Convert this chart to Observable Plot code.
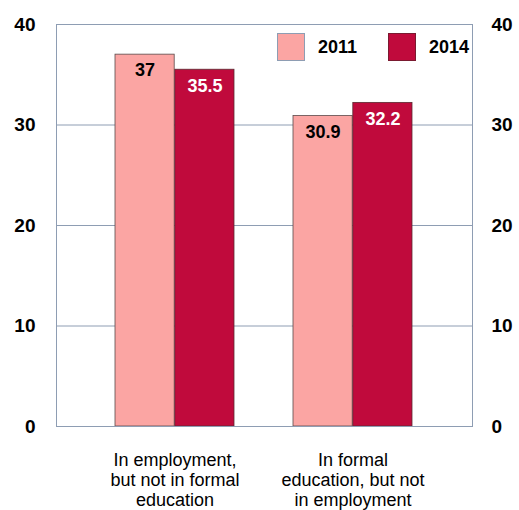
<!DOCTYPE html>
<html>
<head>
<meta charset="utf-8">
<script src="https://cdn.jsdelivr.net/npm/d3@7"></script>
<script src="https://cdn.jsdelivr.net/npm/@observablehq/plot@0.6"></script>
<style>
  html, body { margin: 0; padding: 0; background: #fff; }
  #wrap { position: relative; width: 519px; height: 510px; overflow: hidden; font-family: "Liberation Sans", Arial, sans-serif; }
  .legend { position: absolute; top: 33px; left: 277px; display: flex; align-items: center; font-weight: bold; font-size: 18px; color: #000; }
  .legend .item { display: flex; align-items: center; margin-right: 31px; }
  .legend .sw { width: 28px; height: 28px; box-sizing: border-box; margin-right: 13px; }
</style>
</head>
<body>
<div id="wrap"></div>
<script>
const categories = ["In employment,\nbut not in formal\neducation", "In formal\neducation, but not\nin employment"];
const years = ["2011", "2014"];
const values2011 = [37, 30.9];
const values2014 = [35.5, 32.2];
const yTicks = [0, 10, 20, 30, 40];
const colors = {"2011": "#FBA5A3", "2014": "#C00A3C"};
const labelColors = {"2011": "#000000", "2014": "#FFFFFF"};

const data = [];
categories.forEach((c, i) => {
  data.push({cat: c, year: "2011", value: values2011[i]});
  data.push({cat: c, year: "2014", value: values2014[i]});
});
const d2011 = data.filter(d => d.year === "2011");
const d2014 = data.filter(d => d.year === "2014");

const width = 519, height = 510;
const mL = 56, mR = 47, mT = 24, mB = 84;
const pad = 0.33;
const step = (width - mL - mR) / (categories.length - pad + 2 * pad);
const bw = step * (1 - pad);

const font = "'Liberation Sans', Arial, sans-serif";
const gridColor = "#8E9DB3";
const labelOpts = {x: "cat", y: "value", text: d => String(d.value), fontWeight: "bold", fontSize: 18, lineAnchor: "top", dy: 9};

const chart = Plot.plot({
  width, height,
  marginLeft: mL, marginRight: mR, marginTop: mT, marginBottom: mB,
  style: {fontFamily: font, background: "#fff"},
  x: {domain: categories, padding: pad, axis: null, label: null},
  y: {domain: [0, 40], axis: null, label: null},
  marks: [
    Plot.ruleY(yTicks, {stroke: gridColor, strokeWidth: 1}),
    Plot.barY(d2011, {x: "cat", y: "value", fill: colors["2011"], stroke: "#5a4a4a", strokeWidth: 0.8, insetRight: bw / 2}),
    Plot.barY(d2014, {x: "cat", y: "value", fill: colors["2014"], stroke: "#5a2a30", strokeWidth: 0.8, insetLeft: bw / 2}),
    Plot.text(d2011, {...labelOpts, fill: labelColors["2011"], dx: -bw / 4}),
    Plot.text(d2014, {...labelOpts, fill: labelColors["2014"], dx: bw / 4}),
    Plot.frame({stroke: gridColor, strokeWidth: 1}),
    Plot.axisY({ticks: yTicks, anchor: "left", label: null, tickSize: 0, tickPadding: 21, fontSize: 19, fontWeight: "bold", fill: "#000", tickFormat: d => String(d)}),
    Plot.axisY({ticks: yTicks, anchor: "right", label: null, tickSize: 0, tickPadding: 19, fontSize: 19, fontWeight: "bold", fill: "#000", tickFormat: d => String(d)}),
    Plot.axisX({anchor: "bottom", label: null, tickSize: 0, tickPadding: 25, fontSize: 18, lineHeight: 1.12, fill: "#000", tickFormat: d => d})
  ]
});

document.getElementById("wrap").appendChild(chart);

const legend = document.createElement("div");
legend.className = "legend";
years.forEach(y => {
  const it = document.createElement("div");
  it.className = "item";
  const sw = document.createElement("div");
  sw.className = "sw";
  sw.style.background = colors[y];
  sw.style.border = y === "2011" ? "1px solid #8E9DB3" : "1px solid #7a1a30";
  const lb = document.createElement("span");
  lb.textContent = y;
  it.appendChild(sw); it.appendChild(lb);
  legend.appendChild(it);
});
document.getElementById("wrap").appendChild(legend);
</script>
</body>
</html>
